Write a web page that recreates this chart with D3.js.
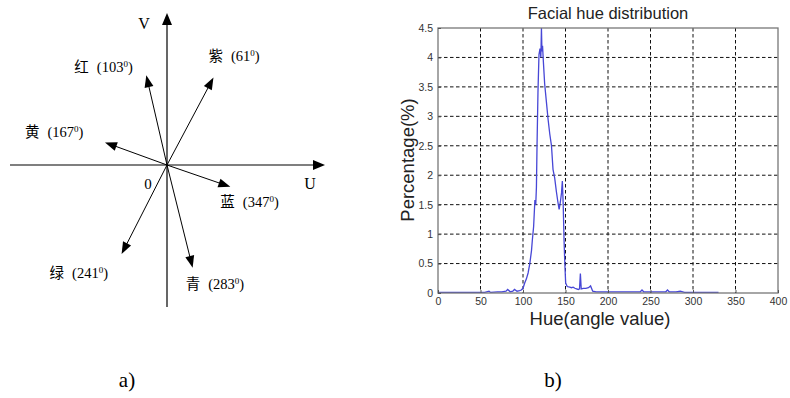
<!DOCTYPE html>
<html>
<head>
<meta charset="utf-8">
<script src="https://cdn.jsdelivr.net/npm/d3@7"></script>
<style>
  body { margin: 0; background: #fff; }
  svg { display: block; }
</style>
</head>
<body>
<div id="chart"></div>
<script>
// ---- a) UV colour vectors ----
const vecNames = ["紫", "红", "黄", "蓝", "青", "绿"];
const vecHue = [61, 103, 167, 347, 283, 241];          // labelled hue angle
const vecDrawAngle = [62, 103, 160, 341, 284, 243];    // direction as drawn
const vecLength = [99, 92, 66, 67, 106, 100];

// ---- b) facial hue histogram ----
const hue = [0, 10, 20, 30, 40, 50, 55, 60, 62, 70, 75, 80, 82, 85, 88, 90, 93, 96, 98, 100,
  102, 104, 106, 108, 110, 111, 112.5, 114, 115, 115.8, 116.5, 117.6, 118.8, 120, 121, 121.7, 122.3, 123, 124,
  125.5, 127.5, 129.5, 131.5, 133.5, 135.3, 137.3, 139.3, 141, 142.5, 144, 145.3, 146.3, 147.3, 148.3, 149.2,
  150.2, 152, 155, 157, 159, 161, 163, 165, 166.5, 167.5, 168.5, 171, 174, 177, 179.5, 182, 186, 190, 200,
  210, 220, 230, 238, 240, 242, 250, 260, 268, 270, 272, 280, 285, 290, 300, 310, 320, 330];
const pct = [0.01, 0.01, 0.01, 0.01, 0.01, 0.01, 0.01, 0.03, 0.01, 0.02, 0.02, 0.03, 0.06, 0.02, 0.03, 0.06, 0.03, 0.04, 0.05, 0.08,
  0.17, 0.24, 0.34, 0.5, 0.72, 0.9, 1.13, 1.58, 1.5, 1.8, 2.5, 3.4, 4.05, 4.15, 4.0, 4.5, 4.1, 4.2, 3.92,
  3.55, 3.25, 2.95, 2.7, 2.5, 2.1, 1.95, 1.72, 1.55, 1.42, 1.55, 1.7, 1.9, 1.5, 0.9, 0.5,
  0.17, 0.11, 0.1, 0.09, 0.1, 0.08, 0.07, 0.06, 0.07, 0.33, 0.07, 0.08, 0.08, 0.09, 0.12, 0.03, 0.02, 0.02, 0.02,
  0.02, 0.02, 0.02, 0.02, 0.05, 0.02, 0.02, 0.02, 0.02, 0.05, 0.02, 0.02, 0.03, 0.01, 0.01, 0.01, 0.01, 0.01];
const xTicks = [0, 50, 100, 150, 200, 250, 300, 350, 400];
const yTicks = [0, 0.5, 1, 1.5, 2, 2.5, 3, 3.5, 4, 4.5];

const W = 790, H = 398;
const svg = d3.select("#chart").append("svg").attr("width", W).attr("height", H);
const serif = "'Liberation Serif', 'Noto Sans CJK SC', serif";
const sans = "'Liberation Sans', Arial, sans-serif";

// ================= a) =================
const origin = { x: 167, y: 165 };
const u = d3.scaleLinear().domain([-157, 158]).range([origin.x - 157, origin.x + 158]);
const v = d3.scaleLinear().domain([-142, 152]).range([origin.y + 142, origin.y - 152]);

const ga = svg.append("g");
// filled triangle arrowhead with its tip at (x,y), pointing along screen angle a
function head(g, x, y, a, len, wid) {
  const bx = x - len * Math.cos(a), by = y - len * Math.sin(a);
  const px = -Math.sin(a) * wid / 2, py = Math.cos(a) * wid / 2;
  g.append("path")
    .attr("d", `M${x},${y}L${bx + px},${by + py}L${bx - px},${by - py}Z`)
    .attr("fill", "#000");
}
// axes
ga.append("line").attr("x1", u(-157)).attr("x2", u(150)).attr("y1", v(0)).attr("y2", v(0))
  .attr("stroke", "#000").attr("stroke-width", 1.2);
head(ga, u(158), v(0), 0, 12, 10);
ga.append("line").attr("x1", u(0)).attr("x2", u(0)).attr("y1", v(-142)).attr("y2", v(144))
  .attr("stroke", "#000").attr("stroke-width", 1.2);
head(ga, u(0), v(152), -Math.PI / 2, 12, 10);

ga.append("text").attr("x", 144).attr("y", 29).attr("text-anchor", "middle")
  .attr("font-family", serif).attr("font-size", 16).text("V");
ga.append("text").attr("x", 310).attr("y", 189).attr("text-anchor", "middle")
  .attr("font-family", serif).attr("font-size", 16).text("U");
ga.append("text").attr("x", 148).attr("y", 189).attr("text-anchor", "middle")
  .attr("font-family", serif).attr("font-size", 15).text("0");

// label offsets relative to arrow tips (layout only)
const labOff = [[-5, -22], [-72, -8], [-80, -10], [-10, 15], [-7, 16], [-72, 19]];

vecNames.forEach((name, i) => {
  const a = vecDrawAngle[i] * Math.PI / 180;
  const L = vecLength[i];
  const tx = u(L * Math.cos(a)), ty = v(L * Math.sin(a));
  const sa = Math.atan2(ty - v(0), tx - u(0));
  const bx = tx - 9 * Math.cos(sa), by = ty - 9 * Math.sin(sa);
  ga.append("line").attr("x1", u(0)).attr("y1", v(0)).attr("x2", bx).attr("y2", by)
    .attr("stroke", "#000").attr("stroke-width", 1);
  head(ga, tx, ty, sa, 12, 9);
  const t = ga.append("text")
    .attr("x", tx + labOff[i][0]).attr("y", ty + labOff[i][1] + 5)
    .attr("font-family", serif).attr("font-size", 14.5);
  t.append("tspan").text(name);
  t.append("tspan").attr("dx", 8).text("(" + vecHue[i]);
  t.append("tspan").attr("font-size", 9).attr("dy", -5).text("0");
  t.append("tspan").attr("dy", 5).text(")");
});

// ================= b) =================
const pl = 438, pr = 778, pt = 28, pb = 293;
const x = d3.scaleLinear().domain([0, 400]).range([pl, pr]);
const y = d3.scaleLinear().domain([0, 4.5]).range([pb, pt]);
const gb = svg.append("g");

// grid
gb.append("g").selectAll("line").data(xTicks.slice(1, -1)).join("line")
  .attr("x1", d => x(d)).attr("x2", d => x(d)).attr("y1", pt).attr("y2", pb)
  .attr("stroke", "#111").attr("stroke-dasharray", "3.5,2.5").attr("stroke-width", 1);
gb.append("g").selectAll("line").data(yTicks.slice(1, -1)).join("line")
  .attr("x1", pl).attr("x2", pr).attr("y1", d => y(d)).attr("y2", d => y(d))
  .attr("stroke", "#111").attr("stroke-dasharray", "3.5,2.5").attr("stroke-width", 1);

// data line
gb.append("path")
  .datum(hue.map((h, i) => [h, pct[i]]))
  .attr("d", d3.line().x(d => x(d[0])).y(d => y(d[1])))
  .attr("fill", "none").attr("stroke", "#4747d6").attr("stroke-width", 1.3);

// frame
gb.append("rect").attr("x", pl).attr("y", pt).attr("width", pr - pl).attr("height", pb - pt)
  .attr("fill", "none").attr("stroke", "#777").attr("stroke-width", 1.3);

// axes
const xAxis = gb.append("g").attr("transform", `translate(0,${pb})`)
  .call(d3.axisBottom(x).tickValues(xTicks).tickSize(-3).tickPadding(5).tickFormat(d => d));
const yAxis = gb.append("g").attr("transform", `translate(${pl},0)`)
  .call(d3.axisLeft(y).tickValues(yTicks).tickSize(-3).tickPadding(5).tickFormat(d => d));
[xAxis, yAxis].forEach(ax => {
  ax.select(".domain").remove();
  ax.selectAll("line").attr("stroke", "#555");
  ax.selectAll("text").attr("font-family", sans).attr("font-size", 10.5).attr("fill", "#333");
});

gb.append("text").attr("x", 608).attr("y", 19).attr("text-anchor", "middle")
  .attr("font-family", sans).attr("font-size", 16.5).attr("fill", "#222").text("Facial hue distribution");
gb.append("text").attr("x", 600).attr("y", 325).attr("text-anchor", "middle")
  .attr("font-family", sans).attr("font-size", 18.5).attr("fill", "#222").text("Hue(angle value)");
gb.append("text").attr("transform", "translate(414,160) rotate(-90)").attr("text-anchor", "middle")
  .attr("font-family", sans).attr("font-size", 18.5).attr("fill", "#222").text("Percentage(%)");

// captions
svg.append("text").attr("x", 127).attr("y", 387).attr("text-anchor", "middle")
  .attr("font-family", serif).attr("font-size", 21).text("a)");
svg.append("text").attr("x", 553).attr("y", 387).attr("text-anchor", "middle")
  .attr("font-family", serif).attr("font-size", 21).text("b)");
</script>
</body>
</html>
